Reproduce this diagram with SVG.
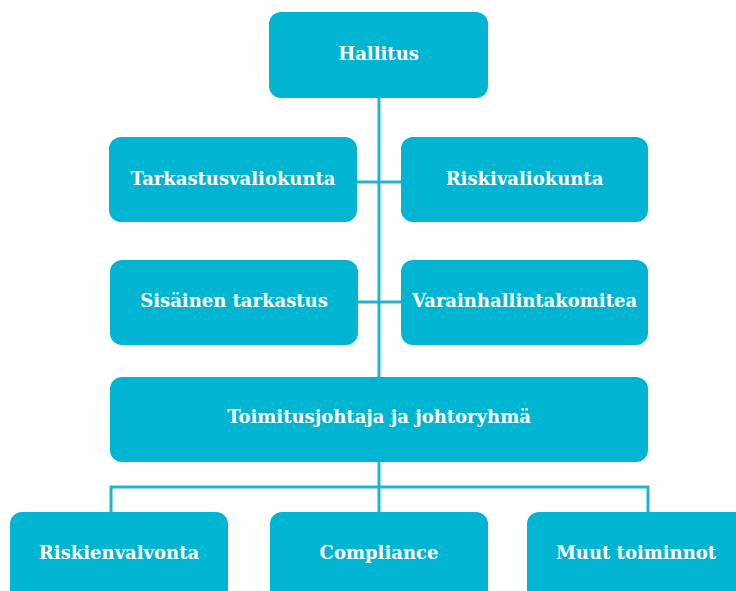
<svg xmlns="http://www.w3.org/2000/svg" width="736" height="591" viewBox="0 0 736 591">
<style>
.box{fill:#00b4d2}
.lbl{fill:#fff;font-family:"DejaVu Serif","Liberation Serif",serif;font-weight:bold;font-size:18px;text-anchor:middle;dominant-baseline:central}
.ln{stroke:#1fb5d1;stroke-width:3;fill:none}
</style>
<rect width="736" height="591" fill="#fff"/>
<g id="connectors">
<path class="ln" d="M379 98V377M357 182H401M358 302H401M379 462V512M111 487H648M111 485.5V512M648 485.5V512"/>
</g>
<g id="hallitus"><rect class="box" x="269" y="12" width="219" height="86" rx="12"/><text class="lbl" x="378.5" y="53">Hallitus</text></g>
<g id="tarkastusvaliokunta"><rect class="box" x="109" y="137" width="248" height="85" rx="12"/><text class="lbl" x="233" y="178">Tarkastusvaliokunta</text></g>
<g id="riskivaliokunta"><rect class="box" x="401" y="137" width="247" height="85" rx="12"/><text class="lbl" x="524.5" y="178">Riskivaliokunta</text></g>
<g id="sisainen"><rect class="box" x="110" y="260" width="248" height="85" rx="12"/><text class="lbl" x="234" y="300">Sisäinen tarkastus</text></g>
<g id="varainhallinta"><rect class="box" x="401" y="260" width="247" height="85" rx="12"/><text class="lbl" x="524.5" y="300">Varainhallintakomitea</text></g>
<g id="toimitusjohtaja"><rect class="box" x="110" y="377" width="538" height="85" rx="12"/><text class="lbl" x="379" y="416">Toimitusjohtaja ja johtoryhmä</text></g>
<g id="riskienvalvonta"><rect class="box" x="10" y="512" width="218" height="100" rx="12"/><text class="lbl" x="119" y="552">Riskienvalvonta</text></g>
<g id="compliance"><rect class="box" x="270" y="512" width="218" height="100" rx="12"/><text class="lbl" x="379" y="552">Compliance</text></g>
<g id="muut"><rect class="box" x="527" y="512" width="230" height="100" rx="12"/><text class="lbl" x="636" y="552">Muut toiminnot</text></g>
</svg>
